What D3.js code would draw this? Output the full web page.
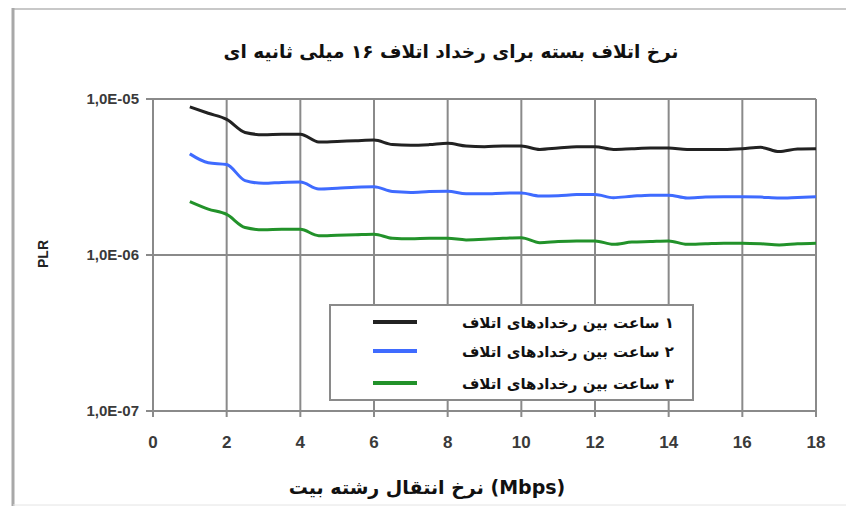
<!DOCTYPE html>
<html><head><meta charset="utf-8">
<script src="https://cdn.jsdelivr.net/npm/d3@7"></script>
<style>body{margin:0;background:#fff;} svg{display:block;}</style>
</head><body>
<svg id="c" width="846" height="506"></svg>
<script>
const xValues = [1,1.5,2,2.5,3,3.5,4,4.5,5,5.5,6,6.5,7,7.5,8,8.5,9,9.5,10,10.5,11,11.5,12,12.5,13,13.5,14,14.5,15,15.5,16,16.5,17,17.5,18];
const series1h = [8.9,8.1,7.4,6.1,5.9,5.95,5.95,5.3,5.35,5.4,5.45,5.1,5.05,5.1,5.2,5.0,4.95,5.0,5.0,4.75,4.85,4.95,4.95,4.75,4.8,4.85,4.85,4.75,4.75,4.75,4.8,4.9,4.6,4.78,4.8];
const series2h = [4.45,3.9,3.8,3.0,2.88,2.92,2.94,2.65,2.68,2.72,2.74,2.55,2.52,2.55,2.56,2.47,2.47,2.49,2.5,2.39,2.4,2.44,2.44,2.33,2.38,2.42,2.42,2.32,2.35,2.36,2.36,2.35,2.32,2.34,2.36];
const series3h = [2.2,1.97,1.82,1.5,1.45,1.46,1.46,1.33,1.34,1.35,1.36,1.28,1.27,1.28,1.28,1.25,1.26,1.28,1.29,1.2,1.22,1.23,1.23,1.17,1.21,1.22,1.23,1.17,1.18,1.19,1.19,1.18,1.16,1.18,1.19];
const seriesNames = ["۱ ساعت بین رخدادهای اتلاف","۲ ساعت بین رخدادهای اتلاف","۳ ساعت بین رخدادهای اتلاف"];
const seriesColors = ["#222222","#3f6bff","#22922a"];
const xTicks = [0,2,4,6,8,10,12,14,16,18];
const yTicks = [1e-7,1e-6,1e-5];
const yTickLabels = ["1,0E-07","1,0E-06","1,0E-05"];
const title = "نرخ اتلاف بسته برای رخداد اتلاف ۱۶ میلی ثانیه ای";
const xTitle = "(Mbps) نرخ انتقال رشته بیت";
const yTitle = "PLR";

const svg = d3.select("#c");
const L=153,R=816,T=99,B=411;
const x = d3.scaleLinear().domain([0,18]).range([L,R]);
const y = d3.scaleLog().domain([1e-7,1e-5]).range([B,T]);
const grid="#8a8a8a";

// outer frame
svg.append("line").attr("x1",13).attr("x2",846).attr("y1",9).attr("y2",9).attr("stroke","#c8c8c8").attr("stroke-width",2);
svg.append("line").attr("x1",13).attr("x2",13).attr("y1",8).attr("y2",506).attr("stroke","#a8a8a8").attr("stroke-width",3);
svg.append("line").attr("x1",13).attr("x2",846).attr("y1",505).attr("y2",505).attr("stroke","#e4e4e4").attr("stroke-width",1);

// grid
const g = svg.append("g");
g.selectAll(".vx").data(xTicks).join("line")
  .attr("x1",d=>x(d)).attr("x2",d=>x(d)).attr("y1",T).attr("y2",B+6)
  .attr("stroke",grid).attr("stroke-width",2);
g.selectAll(".hy").data(yTicks).join("line")
  .attr("x1",L-7).attr("x2",R).attr("y1",d=>y(d)).attr("y2",d=>y(d))
  .attr("stroke",grid).attr("stroke-width",2);

// tick labels
svg.selectAll(".xl").data(xTicks).join("text")
  .attr("x",d=>x(d)).attr("y",448).attr("text-anchor","middle")
  .attr("font-family","Liberation Sans Narrow, Liberation Sans, Arial, sans-serif").attr("font-weight","bold")
  .attr("font-size",17).attr("fill","#3a3a3a").text(d=>d);
svg.selectAll(".yl").data(yTicks).join("text")
  .attr("x",139).attr("y",d=>y(d)+5).attr("text-anchor","end")
  .attr("font-family","Liberation Sans Narrow, Liberation Sans, Arial, sans-serif").attr("font-weight","bold")
  .attr("font-size",15).attr("fill","#3a3a3a").text((d,i)=>yTickLabels[i]);

// lines
const allSeries=[series1h,series2h,series3h];
const line = d3.line().x((d,i)=>x(xValues[i])).y(d=>y(d*1e-6)).curve(d3.curveMonotoneX);
svg.selectAll(".ln").data(allSeries).join("path")
  .attr("d",d=>line(d)).attr("fill","none")
  .attr("stroke",(d,i)=>seriesColors[i]).attr("stroke-width",3).attr("stroke-linejoin","round");

// legend
const lg = svg.append("g");
lg.append("rect").attr("x",330).attr("y",305).attr("width",363).attr("height",95)
  .attr("fill","#fff").attr("stroke","#8a8a8a").attr("stroke-width",2);
const rows=[322,351,383];
lg.selectAll(".ll").data(seriesNames).join("line")
  .attr("x1",373).attr("x2",417).attr("y1",(d,i)=>rows[i]).attr("y2",(d,i)=>rows[i])
  .attr("stroke",(d,i)=>seriesColors[i]).attr("stroke-width",4);
lg.selectAll(".lt").data(seriesNames).join("text")
  .attr("x",674).attr("y",(d,i)=>rows[i]+6)
  .style("direction","rtl").attr("text-anchor","start")
  .attr("font-family","DejaVu Sans, sans-serif").attr("font-weight","bold")
  .attr("font-size",15).attr("fill","#111").text(d=>d);

// titles
svg.append("text").attr("x",451).attr("y",58).attr("text-anchor","middle").style("direction","rtl")
  .attr("font-family","DejaVu Sans, sans-serif").attr("font-weight","bold").attr("font-size",18.5).attr("fill","#111").text(title);
svg.append("text").attr("x",427).attr("y",494).attr("text-anchor","middle").style("direction","rtl")
  .attr("font-family","DejaVu Sans, sans-serif").attr("font-weight","bold").attr("font-size",19).attr("fill","#111").text(xTitle);
svg.append("text").attr("transform","translate(48,254) rotate(-90)").attr("text-anchor","middle")
  .attr("font-family","Liberation Sans, Arial, sans-serif").attr("font-weight","bold").attr("font-size",14).attr("fill","#222").text(yTitle);
</script>
</body></html>
